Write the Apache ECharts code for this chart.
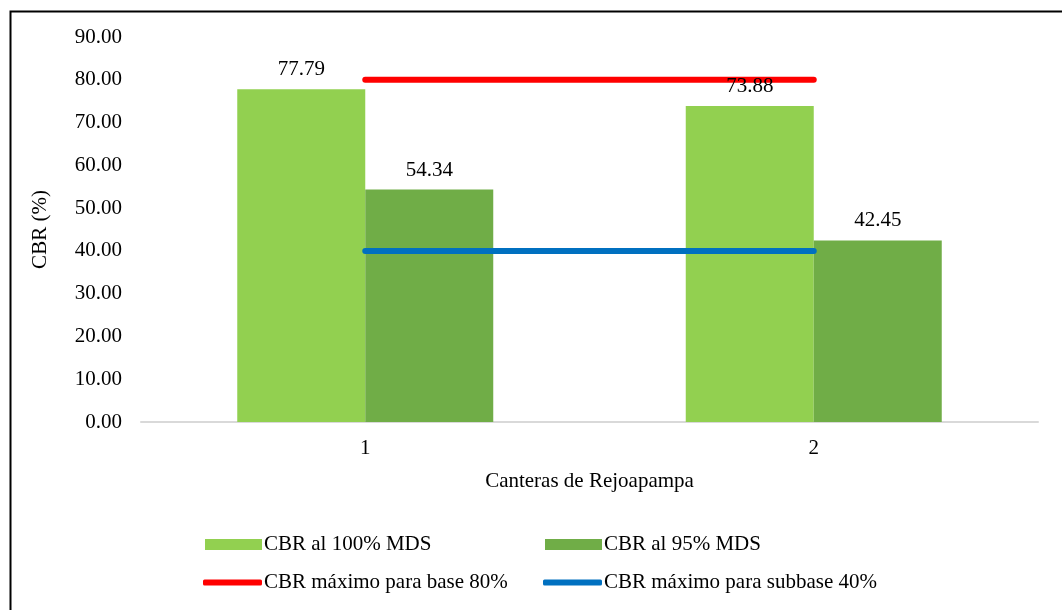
<!DOCTYPE html>
<html>
<head>
<meta charset="utf-8">
<script src="https://cdn.jsdelivr.net/npm/echarts@6/dist/echarts.min.js"></script>
<style>
html,body{margin:0;padding:0;background:#fff;}
#c{width:1062px;height:610px;}
</style>
</head>
<body>
<div id="c"></div>
<script>
const categories = ['1', '2'];
const cbr100 = [77.79, 73.88];
const cbr95 = [54.34, 42.45];
const baseMax = [80, 80];
const subbaseMax = [40, 40];
const yTicks = [0, 10, 20, 30, 40, 50, 60, 70, 80, 90];

const FONT = '"Liberation Serif", "Times New Roman", serif';
const FS = 21;
const chart = echarts.init(document.getElementById('c'));

const barCommon = { barWidth: 128, barGap: '0%' };
const lbl = { show: true, position: 'top', distance: 9, color: '#000', fontFamily: FONT, fontSize: FS, formatter: p => p.value.toFixed(2) };

function legendItem(name, left, top, w, h, icon) {
  return {
    left: left, top: top, itemWidth: w, itemHeight: h, itemGap: 0,
    data: [{ name: name, icon: icon }],
    textStyle: { fontFamily: FONT, fontSize: FS, color: '#000', padding: [0, 0, 0, -3] },
    selectedMode: false
  };
}

chart.setOption({
  animation: false,
  textStyle: { fontFamily: FONT },
  graphic: [{
    type: 'rect', left: 8, top: 9, shape: { width: 1200, height: 800 },
    style: { fill: 'none', stroke: '#000', lineWidth: 2 }, silent: true
  }],
  grid: { left: 141, right: 24, top: 37, bottom: 188 },
  legend: [
    legendItem('CBR al 100% MDS', 200, 529, 57, 11, 'rect'),
    legendItem('CBR al 95% MDS', 540, 529, 57, 11, 'rect'),
    legendItem('CBR máximo para base 80%', 198, 567, 59, 6, 'roundRect'),
    legendItem('CBR máximo para subbase 40%', 538, 567, 59, 6, 'roundRect')
  ],
  xAxis: [{
    type: 'category', data: categories,
    axisLine: { lineStyle: { color: '#D9D9D9', width: 2 } },
    axisTick: { show: false },
    axisLabel: { color: '#000', fontFamily: FONT, fontSize: FS, margin: 16 },
    name: 'Canteras de Rejoapampa', nameLocation: 'middle', nameGap: 49,
    nameTextStyle: { color: '#000', fontFamily: FONT, fontSize: FS }
  }, {
    type: 'category', data: categories, show: false
  }],
  yAxis: {
    type: 'value', min: 0, max: 90, interval: 10,
    splitLine: { show: false },
    axisLine: { show: false }, axisTick: { show: false },
    axisLabel: { color: '#000', fontFamily: FONT, fontSize: FS, margin: 19, padding: [4, 0, 0, 0], formatter: v => v.toFixed(2) },
    name: 'CBR (%)', nameLocation: 'middle', nameGap: 90,
    nameTextStyle: { color: '#000', fontFamily: FONT, fontSize: FS }
  },
  series: [
    Object.assign({ name: 'CBR al 100% MDS', type: 'bar', data: cbr100, z: 2, itemStyle: { color: '#92D050' } }, barCommon),
    Object.assign({ name: 'CBR al 95% MDS', type: 'bar', data: cbr95, z: 2, itemStyle: { color: '#70AD47' } }, barCommon),
    { name: 'CBR máximo para base 80%', type: 'line', data: baseMax, z: 3, symbol: 'none',
      lineStyle: { color: '#FF0000', width: 6, cap: 'round' }, itemStyle: { color: '#FF0000' } },
    { name: 'CBR máximo para subbase 40%', type: 'line', data: subbaseMax, z: 3, symbol: 'none',
      lineStyle: { color: '#0070C0', width: 6, cap: 'round' }, itemStyle: { color: '#0070C0' } },
    Object.assign({ name: 'lbl100', type: 'bar', xAxisIndex: 1, data: cbr100, z: 4, itemStyle: { color: 'rgba(0,0,0,0)' }, label: lbl, tooltip: { show: false } }, barCommon),
    Object.assign({ name: 'lbl95', type: 'bar', xAxisIndex: 1, data: cbr95, z: 4, itemStyle: { color: 'rgba(0,0,0,0)' }, label: lbl, tooltip: { show: false } }, barCommon)
  ]
});
</script>
</body>
</html>
